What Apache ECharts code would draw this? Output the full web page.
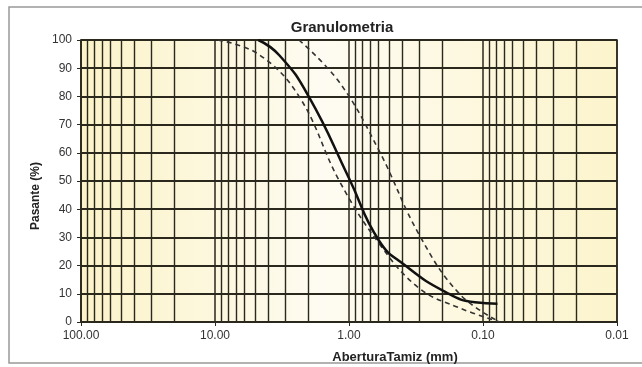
<!DOCTYPE html>
<html>
<head>
<meta charset="utf-8">
<script src="https://cdn.jsdelivr.net/npm/echarts@6/dist/echarts.min.js"></script>
<style>
  html, body { margin: 0; padding: 0; background: #fff; }
  #chart { width: 642px; height: 367px; }
</style>
</head>
<body>
<div id="chart"></div>
<script>
// sample curve, points (opening mm, % passing)
const openSolid = [4.75, 3.3, 2.0, 1.0, 0.6, 0.38, 0.19, 0.115, 0.078]
const passSolid = [100, 94.5, 80, 51, 29, 20, 10.6, 7, 6.5]

// limit curves at the sieve openings
const sieveUpper = [2.36, 1.18, 0.6, 0.3, 0.15, 0.075]
const passUpper = [100, 85, 61, 31, 10, 0]

const sieveLower = [9.5, 4.75, 2.36, 1.18, 0.6, 0.3, 0.15, 0.075]
const passLower = [100, 95, 80, 50, 28, 12, 5, 0]

// minor vertical grid lines (2..9 of every decade)
const minorGrid = [90, 80, 70, 60, 50, 40, 30, 20,
  9, 8, 7, 6, 5, 4, 3, 2,
  0.9, 0.8, 0.7, 0.6, 0.5, 0.4, 0.3, 0.2,
  0.09, 0.08, 0.07, 0.06, 0.05, 0.04, 0.03, 0.02]

const gridColor = '#2b291d'
const font = 'Liberation Sans'
const zip = (xs, ys) => xs.map((x, i) => [x, ys[i]])

const chart = echarts.init(document.getElementById('chart'))

chart.setOption({
  animation: false,
  backgroundColor: '#fff',
  title: [
    { text: 'Granulometria', left: 337, top: 15, textAlign: 'center',
      textStyle: { fontSize: 15, fontWeight: 'bold', color: '#222', fontFamily: font } },
    { text: 'AberturaTamiz (mm)', left: 390, top: 346, textAlign: 'center',
      textStyle: { fontSize: 13, fontWeight: 'bold', color: '#222', fontFamily: font } },
  ],
  graphic: [
    { type: 'rect', shape: { x: 9, y: 7, width: 640, height: 356 },
      style: { fill: 'none', stroke: '#999', lineWidth: 1.5 }, z: -1 },
    { type: 'text', x: 36, y: 196, rotation: Math.PI / 2,
      style: { text: 'Pasante (%)', fontSize: 12, fontWeight: 'bold', fill: '#222',
        fontFamily: font, align: 'center', verticalAlign: 'middle' } },
  ],
  grid: {
    left: 81, right: 25, top: 40, bottom: 45,
    show: true,
    borderColor: gridColor, borderWidth: 1.5,
    backgroundColor: {
      type: 'linear', x: 0, y: 0, x2: 1, y2: 0,
      colorStops: [
        { offset: 0, color: '#fcf3c9' },
        { offset: 0.3, color: '#fdf8e2' },
        { offset: 0.45, color: '#fefcf2' },
        { offset: 0.7, color: '#fdf8e0' },
        { offset: 1, color: '#fcf4cc' },
      ],
    },
  },
  xAxis: {
    type: 'log', logBase: 10, min: 0.01, max: 100, inverse: true,
    axisLine: { show: true, lineStyle: { color: gridColor, width: 1.5 } },
    axisTick: { show: true, length: 4, lineStyle: { color: gridColor } },
    axisLabel: { color: '#333', fontSize: 12, fontFamily: font, margin: 8,
      formatter: v => Number(v).toFixed(2) },
    splitLine: { show: true, lineStyle: { color: gridColor, width: 1.5 } },
  },
  yAxis: {
    type: 'value', min: 0, max: 100, interval: 10,
    axisLine: { show: true, lineStyle: { color: gridColor, width: 1.5 } },
    axisTick: { show: true, length: 4, lineStyle: { color: gridColor } },
    axisLabel: { color: '#333', fontSize: 12, fontFamily: font, margin: 9 },
    splitLine: { show: true, lineStyle: { color: gridColor, width: 1.8 } },
  },
  series: [
    {
      type: 'line', data: [], silent: true, z: 1,
      markLine: {
        silent: true, symbol: ['none', 'none'], label: { show: false },
        lineStyle: { color: gridColor, width: 1.4, type: 'solid' },
        data: minorGrid.map(v => ({ xAxis: v })),
      },
    },
    {
      name: 'Inferior', type: 'line', z: 5, data: zip(sieveLower, passLower),
      smooth: 0.4, showSymbol: false,
      lineStyle: { color: '#333', width: 1.6, type: [5, 4] },
    },
    {
      name: 'Superior', type: 'line', z: 5, data: zip(sieveUpper, passUpper),
      smooth: 0.4, showSymbol: false,
      lineStyle: { color: '#333', width: 1.6, type: [5, 4] },
    },
    {
      name: 'Muestra', type: 'line', z: 6, data: zip(openSolid, passSolid),
      smooth: 0.5, showSymbol: false,
      lineStyle: { color: '#111', width: 2.5 },
    },
  ],
})
</script>
</body>
</html>
